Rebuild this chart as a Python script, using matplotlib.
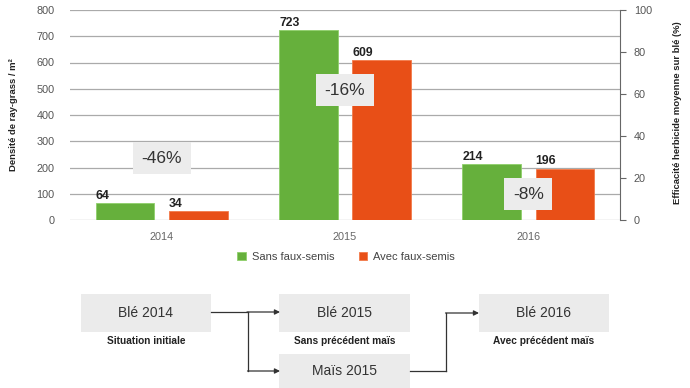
import matplotlib
matplotlib.use("Agg")
import matplotlib.pyplot as plt
from matplotlib.patches import Rectangle
import numpy as np

plt.rcParams['font.family'] = ['Liberation Sans', 'DejaVu Sans']

years = ["2014", "2015", "2016"]
sans = [64, 723, 214]
avec = [34, 609, 196]
reductions = ["-46%", "-16%", "-8%"]
reduction_y = [236, 495, 99]
left_ticks = [0, 100, 200, 300, 400, 500, 600, 700, 800]
right_ticks = [0, 20, 40, 60, 80, 100]

GREEN = "#66b03c"
ORANGE = "#e84f17"
W, H = 690, 388

fig = plt.figure(figsize=(6.9, 3.88), dpi=100)
ax = fig.add_axes([70 / W, 1 - 220 / H, 550 / W, 210 / H])
x = np.arange(len(years))
bw = 0.32
off = 0.2
b1 = ax.bar(x - off, sans, bw, color=GREEN, edgecolor="#8fcf6a", linewidth=0.6, label="Sans faux-semis", zorder=3)
b2 = ax.bar(x + off, avec, bw, color=ORANGE, edgecolor="#f27a4a", linewidth=0.6, label="Avec faux-semis", zorder=3)
for xi, v in zip(x - off, sans):
    ax.text(xi - bw / 2, v + 5, str(v), ha="left", va="bottom", fontsize=8.8, fontweight="bold", color="#222222", zorder=5)
for xi, v in zip(x + off, avec):
    ax.text(xi - bw / 2, v + 5, str(v), ha="left", va="bottom", fontsize=8.8, fontweight="bold", color="#222222", zorder=5)
for xi, t, yv in zip(x, reductions, reduction_y):
    ax.text(xi, yv, t, ha="center", va="center", fontsize=12.5, color="#333333", zorder=6,
            bbox=dict(boxstyle="square,pad=0.5", facecolor="#ececec", edgecolor="none"))

ax.set_xlim(-0.5, 2.5)
ax.set_ylim(0, 800)
ax.set_yticks(left_ticks)
ax.set_xticks(x)
ax.set_xticklabels(years)
ax.yaxis.grid(True, color="#aaaaaa", linewidth=0.9, zorder=0)
ax.set_axisbelow(True)
for s in ["top", "left", "bottom", "right"]:
    ax.spines[s].set_visible(False)
ax.tick_params(axis="both", length=0, labelsize=7.8, colors="#555555")
ax.tick_params(axis="y", pad=11)
ax.tick_params(axis="x", pad=9, labelcolor="#666666")

ax2 = ax.twinx()
ax2.set_ylim(0, 100)
ax2.set_yticks(right_ticks)
for s in ["top", "left", "bottom"]:
    ax2.spines[s].set_visible(False)
ax2.spines["right"].set_color("#666666")
ax2.spines["right"].set_linewidth(0.8)
ax2.tick_params(axis="y", length=4, width=0.8, color="#666666", labelsize=7.8, labelcolor="#555555", pad=6)

fig.text(14 / W, 1 - 115 / H, "Densité de ray-grass / m²", rotation=90, ha="center", va="center",
         fontsize=6.8, fontweight="bold", color="#222222")
fig.text(678 / W, 1 - 113 / H, "Efficacité herbicide moyenne sur blé (%)", rotation=90, ha="center", va="center",
         fontsize=6.8, fontweight="bold", color="#222222")

fig.legend(handles=[b1, b2], loc="center", bbox_to_anchor=(346 / W, 1 - 257 / H), ncol=2, frameon=False,
           fontsize=8, handlelength=0.8, handleheight=0.8, handletextpad=0.5, columnspacing=2.2,
           labelcolor="#444444")

# Flow chart overlay
ov = fig.add_axes([0, 0, 1, 1], zorder=10)
ov.set_xlim(0, W)
ov.set_ylim(H, 0)
ov.axis("off")
ov.patch.set_alpha(0)

boxes = [
    (81, 294, 130, 38, "Blé 2014", "Situation initiale"),
    (279, 294, 131, 38, "Blé 2015", "Sans précédent maïs"),
    (279, 354, 131, 34, "Maïs 2015", None),
    (479, 294, 130, 38, "Blé 2016", "Avec précédent maïs"),
]
for bx, by, bwid, bh, t, sub in boxes:
    ov.add_patch(Rectangle((bx, by), bwid, bh, facecolor="#ebebeb", edgecolor="none"))
    ov.text(bx + bwid / 2, by + 19 if bh == 38 else by + 17, t, ha="center", va="center", fontsize=10, color="#333333")
    if sub:
        ov.text(bx + bwid / 2, by + 47, sub, ha="center", va="center", fontsize=7.3, fontweight="bold", color="#222222")

lc = "#333333"
lw = 0.9
ap = dict(arrowstyle="-|>,head_length=0.3,head_width=0.15", color=lc, lw=lw, shrinkA=0, shrinkB=0)
ov.plot([211, 248], [312, 312], color=lc, lw=lw)
ov.plot([248, 248], [312, 371], color=lc, lw=lw)
ov.annotate("", xy=(280, 312), xytext=(247, 312), arrowprops=ap)
ov.annotate("", xy=(280, 371), xytext=(247.5, 371), arrowprops=ap)
ov.plot([410, 446], [371, 371], color=lc, lw=lw)
ov.plot([446, 446], [371, 313], color=lc, lw=lw)
ov.annotate("", xy=(479, 313), xytext=(445.5, 313), arrowprops=ap)

fig.savefig("out.png", dpi=100)
